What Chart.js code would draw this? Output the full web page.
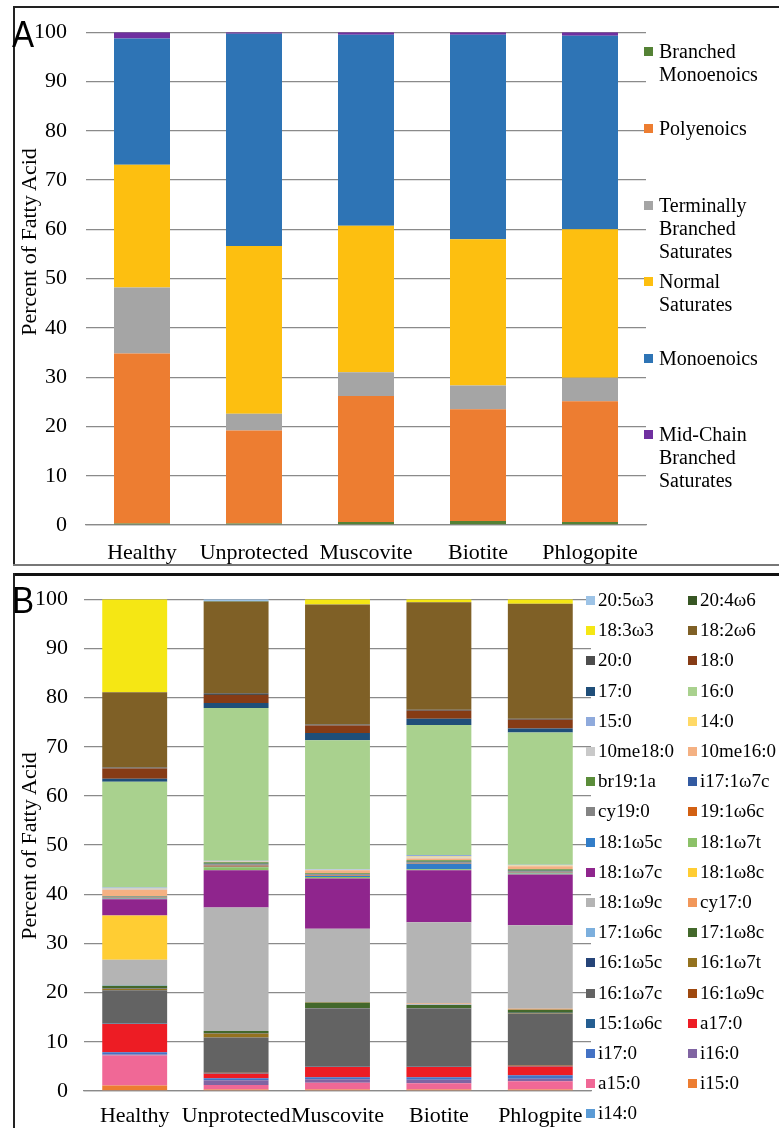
<!DOCTYPE html>
<html>
<head>
<meta charset="utf-8">
<script src="https://cdn.jsdelivr.net/npm/chart.js@4.4.1/dist/chart.umd.min.js"></script>
<style>
  html, body { margin: 0; padding: 0; background: #fff; }
  #wrap { position: relative; width: 779px; height: 1128px; background: #fff; overflow: hidden; }
  .abs { position: absolute; }
  .panel-letter { position: absolute; font-family: "Liberation Sans", Arial, sans-serif; font-size: 36px; line-height: 1; color: #000; transform: scaleX(0.92); transform-origin: left top; }
  .ytitle { position: absolute; font-family: "Liberation Serif", "Times New Roman", serif; font-size: 22px; color: #000; white-space: nowrap; transform: translate(-50%, -50%) rotate(-90deg); }
  .leg { position: absolute; font-family: "Liberation Serif", "Times New Roman", serif; color: #000; white-space: nowrap; }
  .sw { position: absolute; width: 9px; height: 9px; }
  .line { position: absolute; background: #222; }
</style>
</head>
<body>
<div id="wrap">
  <canvas id="chartA" class="abs" width="779" height="568" style="left:0;top:0"></canvas>
  <canvas id="chartB" class="abs" width="779" height="558" style="left:0;top:570px"></canvas>
</div>
<script>
// ---- Panel A: fatty acid classes (percent), one array per class ----
const samplesA = ["Healthy", "Unprotected", "Muscovite", "Biotite", "Phlogopite"];
const branchedMonoenoics = [0.3, 0.3, 0.6, 0.8, 0.6];
const polyenoics         = [34.5, 18.9, 25.6, 22.7, 24.5];
const terminallyBranched = [13.4, 3.4, 4.8, 4.8, 4.8];
const normalSaturates    = [24.9, 34.0, 29.7, 29.7, 30.1];
const monoenoics         = [25.6, 43.1, 38.8, 41.5, 39.3];
const midChainBranched   = [1.3, 0.3, 0.5, 0.5, 0.7];
const classNamesA = ["Branched Monoenoics", "Polyenoics", "Terminally Branched Saturates",
                     "Normal Saturates", "Monoenoics", "Mid-Chain Branched Saturates"];
const classLinesA = [["Branched", "Monoenoics"], ["Polyenoics"], ["Terminally", "Branched", "Saturates"],
                     ["Normal", "Saturates"], ["Monoenoics"], ["Mid-Chain", "Branched", "Saturates"]];
const yTicks = [0, 10, 20, 30, 40, 50, 60, 70, 80, 90, 100];

// ---- Panel B: individual fatty acids (percent), stacked bottom to top ----
const samplesB = ["Healthy", "Unprotected", "Muscovite", "Biotite", "Phlogpite"];
const fattyAcids = ["i14:0", "i15:0", "a15:0", "i16:0", "i17:0", "a17:0", "15:1ω6c", "16:1ω9c",
  "16:1ω7c", "16:1ω7t", "16:1ω5c", "17:1ω8c", "17:1ω6c", "cy17:0", "18:1ω9c", "18:1ω8c",
  "18:1ω7c", "18:1ω7t", "18:1ω5c", "19:1ω6c", "cy19:0", "i17:1ω7c", "br19:1a", "10me16:0",
  "10me18:0", "14:0", "15:0", "16:0", "17:0", "18:0", "20:0", "18:2ω6", "18:3ω3", "20:4ω6", "20:5ω3"];
const healthyB     = [0.1, 1.0, 6.1, 0.2, 0.5, 5.7, 0.1, 0.1, 6.7, 0.3, 0.1, 0.5, 0.1, 0.0, 5.2, 9.0,
  3.3, 0.1, 0.1, 0.1, 0.1, 0.1, 0.1, 1.3, 0.2, 0.1, 0.2, 21.5, 0.6, 2.1, 0.2, 15.3, 18.9, 0.0, 0.0];
const unprotectedB = [0.1, 0.2, 0.9, 1.0, 0.4, 0.9, 0.1, 0.1, 7.2, 0.8, 0.1, 0.4, 0.0, 0.0, 25.1, 0.0,
  7.6, 0.6, 0.1, 0.2, 0.3, 0.1, 0.3, 0.1, 0.1, 0.0, 0.1, 31.1, 1.0, 1.6, 0.4, 18.6, 0.0, 0.1, 0.4];
const muscoviteB   = [0.1, 0.2, 1.4, 0.7, 0.4, 2.1, 0.1, 0.1, 11.6, 0.1, 0.1, 1.1, 0.0, 0.1, 14.9, 0.0,
  10.2, 0.3, 0.2, 0.1, 0.2, 0.1, 0.2, 0.6, 0.1, 0.0, 0.1, 26.2, 1.5, 1.5, 0.2, 24.4, 1.1, 0.0, 0.0];
const biotiteB     = [0.1, 0.2, 1.3, 0.7, 0.5, 2.1, 0.1, 0.1, 11.6, 0.1, 0.1, 0.6, 0.1, 0.2, 16.5, 0.0,
  10.6, 0.2, 1.1, 0.1, 0.2, 0.1, 0.3, 0.4, 0.2, 0.2, 0.3, 26.4, 1.3, 1.6, 0.2, 21.9, 0.6, 0.0, 0.0];
const phlogpiteB   = [0.1, 0.2, 1.7, 0.5, 0.7, 1.8, 0.1, 0.1, 10.5, 0.1, 0.1, 0.6, 0.0, 0.2, 17.0, 0.0,
  10.3, 0.2, 0.2, 0.1, 0.2, 0.1, 0.3, 0.6, 0.1, 0.1, 0.1, 26.9, 0.8, 1.8, 0.2, 23.4, 0.9, 0.0, 0.0];

// ---- colours ----
const coloursA = ["#548235", "#ed7d31", "#a5a5a5", "#fdbf10", "#2e74b5", "#7030a0"];
const coloursB = ["#5b9bd5", "#ed7d31", "#f06896", "#8064a2", "#4472c4", "#ed1c24", "#255e91", "#9e480e",
  "#636363", "#94721f", "#264478", "#43682b", "#7cafdd", "#f1975a", "#b4b4b4", "#ffcd33",
  "#8f258d", "#8cc168", "#327dc8", "#d26012", "#848484", "#335aa1", "#5b8d3a", "#f4b183",
  "#c9c9c9", "#ffd966", "#8faadc", "#a9d18e", "#1f4e79", "#863b15", "#4d4d4d", "#7f6026",
  "#f5e714", "#375623", "#9dc3e6"];

const serif = '"Liberation Serif", "Times New Roman", serif';
const gridColour = "#8a8a8a";

function makeScales(yWidth, xHeight, yPad, xPad) {
  return {
    x: {
      stacked: true,
      grid: { display: false, drawTicks: false },
      border: { display: true, color: gridColour, width: 1.3 },
      ticks: { color: "#000", padding: xPad, maxRotation: 0, autoSkip: false, font: { family: serif, size: 22 } },
      afterFit(s) { s.height = xHeight; }
    },
    y: {
      stacked: true, min: 0, max: 100,
      afterBuildTicks(s) { s.ticks = yTicks.map(v => ({ value: v })); },
      grid: { color: gridColour, lineWidth: 1.3, drawTicks: false },
      border: { display: false },
      ticks: { color: "#000", padding: yPad, font: { family: serif, size: 22 } },
      afterFit(s) { s.width = yWidth; }
    }
  };
}

const commonPlugins = { legend: { display: false }, tooltip: { enabled: false } };

function drawCharts() {
  // Panel A chart
  const seriesA = [branchedMonoenoics, polyenoics, terminallyBranched, normalSaturates, monoenoics, midChainBranched];
  new Chart(document.getElementById("chartA"), {
    type: "bar",
    data: {
      labels: samplesA,
      datasets: seriesA.map((vals, i) => ({
        label: classNamesA[i], data: vals, backgroundColor: coloursA[i],
        borderWidth: 0, barPercentage: 1.0, categoryPercentage: 0.5
      }))
    },
    options: {
      responsive: false, animation: false,
      layout: { padding: { left: 0, right: 133, top: 25, bottom: 0 } },
      plugins: commonPlugins,
      scales: makeScales(86, 43, 19, 15)
    }
  });

  // Panel B chart: one dataset per fatty acid, values taken across the sample arrays
  const sampleArraysB = [healthyB, unprotectedB, muscoviteB, biotiteB, phlogpiteB];
  new Chart(document.getElementById("chartB"), {
    type: "bar",
    data: {
      labels: samplesB,
      datasets: fattyAcids.map((name, i) => ({
        label: name, data: sampleArraysB.map(arr => arr[i]), backgroundColor: coloursB[i],
        borderWidth: 0, barPercentage: 1.0, categoryPercentage: 0.64
      }))
    },
    options: {
      responsive: false, animation: false,
      layout: { padding: { left: 0, right: 188, top: 21, bottom: 0 } },
      plugins: commonPlugins,
      scales: makeScales(84, 37, 16, 12)
    }
  });
}

// ---- surrounding text, legends and frames ----
const wrap = document.getElementById("wrap");
function add(cls, css, text) {
  const d = document.createElement("div");
  d.className = cls;
  Object.assign(d.style, css);
  if (text !== undefined) d.textContent = text;
  wrap.appendChild(d);
  return d;
}

// frames
add("line", { left: "13px", top: "6px", width: "766px", height: "1.5px" });
add("line", { left: "13px", top: "6px", width: "1.5px", height: "559px" });
add("line", { left: "13px", top: "564px", width: "766px", height: "1.5px", background: "#777" });
add("line", { left: "13px", top: "573px", width: "766px", height: "2.5px", background: "#111" });
add("line", { left: "13px", top: "573px", width: "1.5px", height: "555px" });

// panel letters
add("panel-letter", { left: "12px", top: "17px" }, "A");
add("panel-letter", { left: "12px", top: "583px" }, "B");

// axis titles
add("ytitle", { left: "29px", top: "242px" }, "Percent of Fatty Acid");
add("ytitle", { left: "29px", top: "846px" }, "Percent of Fatty Acid");

// legend A: class names, stacked vertically on the right
const legATop = [51, 128, 205, 281, 358, 434];
classLinesA.forEach((lines, i) => {
  add("sw", { left: "644px", top: (legATop[i] - 4) + "px", background: coloursA[i] });
  const t = add("leg", { left: "659px", top: (legATop[i] - 11.5) + "px", fontSize: "20px", lineHeight: "23px" });
  t.innerHTML = lines.join("<br>");
});

// legend B: two columns, top series first
const legendOrderB = fattyAcids.slice().reverse();
legendOrderB.forEach((name, i) => {
  const row = Math.floor(i / 2), col = i % 2;
  const cy = 600 + row * 30.2;
  const sx = col === 0 ? 586 : 688;
  add("sw", { left: sx + "px", top: (cy - 4) + "px", background: coloursB[fattyAcids.length - 1 - i] });
  add("leg", { left: (sx + 12) + "px", top: (cy - 11) + "px", fontSize: "19px", lineHeight: "22px" }, name);
});

// draw once the serif face is ready so canvas labels use it
if (document.fonts && document.fonts.load) {
  document.fonts.load('22px "Liberation Serif"').then(drawCharts, drawCharts);
} else {
  drawCharts();
}
</script>
</body>
</html>
